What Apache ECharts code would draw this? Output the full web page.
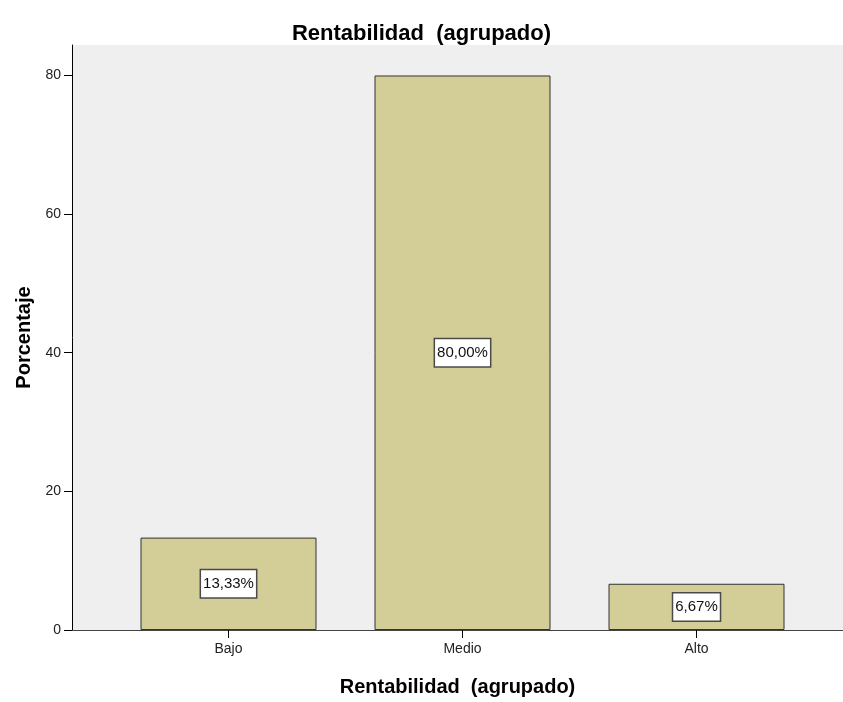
<!DOCTYPE html>
<html>
<head>
<meta charset="utf-8">
<script src="https://cdn.jsdelivr.net/npm/echarts@6/dist/echarts.min.js"></script>
<style>
  html, body { margin: 0; padding: 0; background: #ffffff; }
  #chart { width: 843px; height: 702px; }
</style>
</head>
<body>
<div id="chart"></div>
<script>
// Rentabilidad (agrupado): percentage of cases per group
const categories = ['Bajo', 'Medio', 'Alto'];
const percentages = [13.33, 80.00, 6.67];
const yTicks = [0, 20, 40, 60, 80];

// bars sit at positions 1..3 on a value axis so the plot can extend past the last bar
const barData = percentages.map((v, i) => [i + 1, v]);
const fmtPct = v => v.toFixed(2).replace('.', ',') + '%';

const SANS = "'Liberation Sans', Arial, sans-serif";

const chart = echarts.init(document.getElementById('chart'), null, { renderer: 'canvas' });
chart.setOption({
  backgroundColor: '#ffffff',
  animation: false,
  title: {
    text: 'Rentabilidad  (agrupado)',
    left: 'center',
    top: 18,
    textStyle: { fontFamily: SANS, fontSize: 22, fontWeight: 'bold', color: '#000' }
  },
  grid: { left: 72, right: 0, top: 45, bottom: 66, show: true, backgroundColor: '#efefef', borderWidth: 0 },
  xAxis: [{
    type: 'value',
    min: 0.3312,
    max: 3.626,
    position: 'bottom',
    name: 'Rentabilidad  (agrupado)',
    nameLocation: 'middle',
    nameGap: 47,
    nameTextStyle: { fontFamily: SANS, fontSize: 20, fontWeight: 'bold', color: '#000' },
    splitLine: { show: false },
    axisLine: { show: true, onZero: false, lineStyle: { color: '#000', width: 1 } },
    axisTick: { show: true, length: 8, lineStyle: { color: '#000' }, customValues: [1, 2, 3] },
    axisLabel: {
      customValues: [1, 2, 3],
      margin: 12,
      fontFamily: SANS, fontSize: 14, color: '#222',
      formatter: v => categories[Math.round(v) - 1] || ''
    }
  }, {
    type: 'value',
    min: 0.3312,
    max: 3.626,
    position: 'top',
    splitLine: { show: false },
    axisLine: { show: true, lineStyle: { color: '#444', width: 1 } },
    axisTick: { show: false },
    axisLabel: { show: false }
  }],
  yAxis: {
    type: 'value',
    min: 0,
    max: 84.4,
    interval: 20,
    name: 'Porcentaje',
    nameLocation: 'middle',
    nameGap: 37,
    nameTextStyle: { fontFamily: SANS, fontSize: 20, fontWeight: 'bold', color: '#000' },
    splitLine: { show: false },
    axisLine: { show: true, lineStyle: { color: '#000', width: 1 } },
    axisTick: { show: true, length: 8, lineStyle: { color: '#000' }, customValues: yTicks },
    axisLabel: {
      customValues: yTicks,
      margin: 11,
      fontFamily: SANS, fontSize: 14, color: '#222'
    }
  },
  series: [{
    type: 'bar',
    xAxisIndex: 0,
    data: barData,
    barWidth: 176,
    itemStyle: { color: '#d3ce97', borderColor: '#333333', borderWidth: 1 },
    label: {
      show: true,
      position: 'inside',
      formatter: p => fmtPct(p.value[1]),
      fontFamily: SANS,
      fontSize: 15,
      lineHeight: 20,
      color: '#111',
      backgroundColor: '#ffffff',
      borderColor: '#4a4a4a',
      borderWidth: 1.5,
      padding: [4, 2, 3, 2]
    }
  }]
});
</script>
</body>
</html>
